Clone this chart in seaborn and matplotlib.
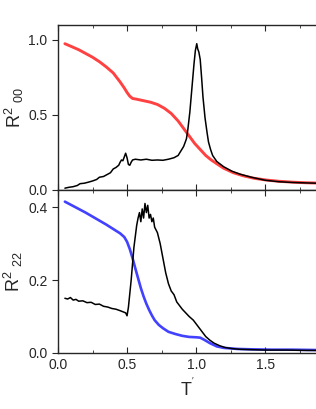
import numpy as np
import pandas as pd
import matplotlib
matplotlib.use("Agg")
import matplotlib.pyplot as plt
from matplotlib.ticker import MultipleLocator
import seaborn as sns

# top panel: R^2_00 (red) and its fluctuation (black)
t_red00 = [0.05, 0.10, 0.15, 0.20, 0.25, 0.30, 0.35, 0.40, 0.45, 0.48, 0.50, 0.52, 0.54, 0.57,
           0.62, 0.67, 0.72, 0.77, 0.82, 0.87, 0.91, 0.95, 0.99, 1.03, 1.07, 1.11, 1.15, 1.20,
           1.27, 1.34, 1.42, 1.51, 1.60, 1.70, 1.80, 1.88]
r00 = [0.975, 0.955, 0.935, 0.91, 0.885, 0.855, 0.82, 0.78, 0.72, 0.68, 0.65, 0.625, 0.61, 0.605,
       0.595, 0.585, 0.57, 0.545, 0.51, 0.46, 0.41, 0.36, 0.31, 0.27, 0.23, 0.2, 0.175, 0.145,
       0.115, 0.095, 0.078, 0.066, 0.058, 0.052, 0.048, 0.046]

t_blk00 = [0.05, 0.08, 0.11, 0.14, 0.16, 0.19, 0.22, 0.25, 0.28, 0.30, 0.33, 0.36, 0.38, 0.40,
           0.42, 0.44, 0.45, 0.46, 0.47, 0.48, 0.49, 0.50, 0.51, 0.52, 0.53, 0.54, 0.56, 0.60,
           0.64, 0.68, 0.72, 0.76, 0.80, 0.84, 0.87, 0.89, 0.91, 0.93, 0.94, 0.955, 0.97, 0.985,
           0.995, 1.005, 1.012, 1.02, 1.03, 1.04, 1.05, 1.065, 1.08, 1.09, 1.105, 1.12, 1.15,
           1.2, 1.26, 1.32, 1.4, 1.5, 1.6, 1.7, 1.8, 1.88]
s00 = [0.012, 0.018, 0.022, 0.03, 0.042, 0.045, 0.052, 0.06, 0.07, 0.085, 0.09, 0.105, 0.115, 0.14,
       0.15, 0.165, 0.185, 0.2, 0.195, 0.22, 0.245, 0.215, 0.17, 0.165, 0.185, 0.2, 0.205, 0.2,
       0.205, 0.198, 0.2, 0.198, 0.205, 0.215, 0.23, 0.26, 0.29, 0.34, 0.4, 0.52, 0.68, 0.84,
       0.93, 0.975, 0.94, 0.92, 0.87, 0.75, 0.62, 0.48, 0.38, 0.32, 0.27, 0.23, 0.19,
       0.155, 0.125, 0.105, 0.085, 0.065, 0.055, 0.05, 0.047, 0.045]

# bottom panel: R^2_22 (blue) and its fluctuation (black)
t_blue22 = [0.05, 0.10, 0.15, 0.20, 0.25, 0.30, 0.35, 0.40, 0.45, 0.48, 0.50, 0.52, 0.54, 0.56,
            0.58, 0.60, 0.62, 0.64, 0.66, 0.68, 0.70, 0.73, 0.76, 0.80, 0.85, 0.90, 0.95, 1.00,
            1.03, 1.06, 1.10, 1.15, 1.20, 1.30, 1.40, 1.55, 1.70, 1.88]
r22 = [0.415, 0.405, 0.395, 0.385, 0.374, 0.363, 0.352, 0.34, 0.328, 0.318, 0.305, 0.285, 0.26, 0.232,
       0.205, 0.178, 0.155, 0.135, 0.118, 0.103, 0.09, 0.077, 0.068, 0.058, 0.052, 0.047, 0.044, 0.043,
       0.042, 0.036, 0.027, 0.018, 0.014, 0.011, 0.01, 0.009, 0.009, 0.008]

t_blk22 = [0.05, 0.07, 0.09, 0.11, 0.13, 0.15, 0.18, 0.21, 0.24, 0.27, 0.30, 0.33, 0.36, 0.39,
           0.42, 0.45, 0.47, 0.49, 0.50, 0.51, 0.53, 0.55, 0.57, 0.58, 0.59, 0.60, 0.61, 0.62,
           0.63, 0.64, 0.65, 0.66, 0.67, 0.68, 0.69, 0.70, 0.72, 0.74, 0.76, 0.78, 0.80, 0.82,
           0.84, 0.86, 0.88, 0.90, 0.92, 0.95, 0.98, 1.01, 1.04, 1.07, 1.10, 1.13, 1.17, 1.21,
           1.26, 1.32, 1.40, 1.50, 1.65, 1.80, 1.88]
s22 = [0.15, 0.148, 0.152, 0.145, 0.147, 0.142, 0.143, 0.138, 0.139, 0.133, 0.134, 0.128, 0.126, 0.122,
       0.12, 0.116, 0.113, 0.11, 0.102, 0.125, 0.2, 0.29, 0.35, 0.37, 0.385, 0.36, 0.395, 0.37,
       0.41, 0.385, 0.405, 0.37, 0.38, 0.36, 0.37, 0.345, 0.33, 0.3, 0.26, 0.22, 0.19, 0.17,
       0.16, 0.14, 0.13, 0.12, 0.112, 0.1, 0.09, 0.075, 0.06, 0.045, 0.035, 0.027, 0.02, 0.015,
       0.012, 0.01, 0.009, 0.008, 0.008, 0.007, 0.007]

sns.set_style("ticks")
plt.rcParams['font.family'] = ['Liberation Sans', 'DejaVu Sans']
plt.rcParams['mathtext.default'] = 'regular'

fig = plt.figure(figsize=(3.16, 4.09), dpi=100)
ax1 = fig.add_axes([0.1835, 0.5355, 0.8215, 0.4035])
ax2 = fig.add_axes([0.1835, 0.137, 0.8215, 0.3985])

sns.lineplot(x=t_red00, y=r00, ax=ax1, color='#ff2020', lw=2.1, alpha=0.85)
sns.lineplot(x=t_blk00, y=s00, ax=ax1, color='black', lw=1.1)
sns.lineplot(x=t_blue22, y=r22, ax=ax2, color='#2020ff', lw=1.9, alpha=0.85)
sns.lineplot(x=t_blk22, y=s22, ax=ax2, color='black', lw=1.1)

for ax in (ax1, ax2):
    ax.set_xlim(0, 1.88)
    ax.xaxis.set_major_locator(MultipleLocator(0.5))
    ax.xaxis.set_minor_locator(MultipleLocator(0.25))
    ax.tick_params(axis='x', which='both', direction='in', top=True, labelsize=10)
    ax.tick_params(axis='x', which='major', length=4)
    ax.tick_params(axis='x', which='minor', length=2)
    ax.tick_params(axis='y', which='major', direction='out', length=4, right=False, labelsize=10)
    for sp in ax.spines.values():
        sp.set_linewidth(1.0)

ax1.set_ylim(0, 1.1)
ax1.yaxis.set_major_locator(MultipleLocator(0.5))
ax1.tick_params(labelbottom=False)
ax1.set_ylabel('R$^2$ $_{00}$', fontsize=13, labelpad=2)

ax2.set_ylim(0, 0.447)
ax2.yaxis.set_major_locator(MultipleLocator(0.2))
ax2.set_ylabel('R$^2$ $_{22}$', fontsize=13, labelpad=2)
ax2.set_xlabel("T$^{'}$", fontsize=13)

fig.align_ylabels([ax1, ax2])
fig.savefig('out.png', dpi=100)
